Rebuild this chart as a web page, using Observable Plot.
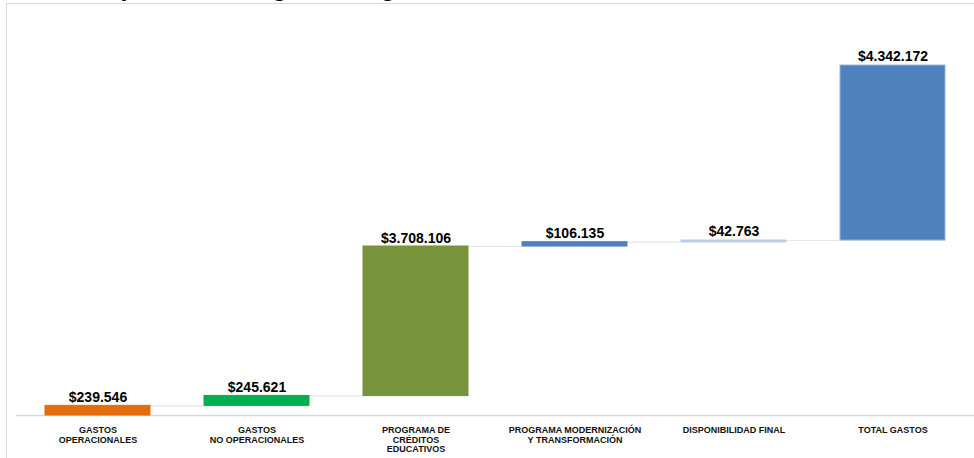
<!DOCTYPE html>
<html>
<head>
<meta charset="utf-8">
<script src="https://cdn.jsdelivr.net/npm/d3@7"></script>
<script src="https://cdn.jsdelivr.net/npm/@observablehq/plot@0.6"></script>
<style>
  html, body { margin: 0; padding: 0; background: #fff; overflow: hidden; }
  #wrap { position: relative; width: 974px; height: 458px; font-family: "Liberation Sans", Arial, sans-serif; }
  #frame { position: absolute; left: 6px; top: 3px; right: 0; bottom: 0; border-left: 1px solid #d9d9d9; border-top: 1px solid #d9d9d9; }
  #title { position: absolute; left: 65px; top: -25px; font-size: 25px; font-weight: bold; line-height: 25px; white-space: nowrap; color: #000; }
  #chart { position: absolute; left: 0; top: 0; }
</style>
</head>
<body>
<div id="wrap">
  <div id="title">Comportamiento gastos vigencia</div>
  <div id="frame"></div>
  <div id="chart"></div>
</div>
<script>
const categories = [
  "GASTOS\nOPERACIONALES",
  "GASTOS\nNO OPERACIONALES",
  "PROGRAMA DE\nCRÉDITOS\nEDUCATIVOS",
  "PROGRAMA MODERNIZACIÓN\nY TRANSFORMACIÓN",
  "DISPONIBILIDAD FINAL",
  "TOTAL GASTOS"
];
const values = [239546, 245621, 3708106, 106135, 42763, 4342172];
const colors = ["#e46c0a", "#00b050", "#77933c", "#4f81bd", "#b9cde5", "#4f81bd"];
const strokes = ["#e46c0a", "#00b050", "#77933c", "#4f81bd", "#b9cde5", "#95b3d7"];
const yMax = 9304650;

const fmt = d3.formatLocale({decimal: ",", thousands: ".", grouping: [3], currency: ["$", ""]}).format("$,.0f");

let acc = 0;
const data = categories.map((c, i) => {
  const start = acc;
  acc += values[i];
  return {cat: c, value: values[i], start, end: acc, fill: colors[i], stroke: strokes[i], label: fmt(values[i]), next: categories[i + 1]};
});
const connectors = data.filter(d => d.next);

const chart = Plot.plot({
  width: 974,
  height: 458,
  marginLeft: 16,
  marginRight: 0,
  marginTop: 40,
  marginBottom: 43,
  style: {fontFamily: "'Liberation Sans', Arial, sans-serif", background: "transparent"},
  x: {domain: categories, paddingInner: 0.3375, paddingOuter: 0.169, align: 0.5, label: null},
  y: {domain: [0, yMax], axis: null},
  marks: [
    Plot.ruleY(connectors, {x1: "cat", x2: "next", y: "end", stroke: "#e6e6e6", strokeWidth: 1.2}),
    Plot.ruleY([0], {stroke: "#d9d9d9", strokeWidth: 1.5}),
    Plot.barY(data, {x: "cat", y1: "start", y2: "end", fill: "fill", stroke: "stroke", strokeWidth: 1}),
    Plot.text(data, {x: "cat", y: "end", text: "label", lineAnchor: "bottom", dy: -4, fontSize: 14, fontWeight: "bold", fill: "#000"}),
    Plot.axisX({tickSize: 0, tickPadding: 11, fontSize: 9, fontWeight: "bold", lineHeight: 1.05, fill: "#111", label: null})
  ]
});
document.getElementById("chart").appendChild(chart);
</script>
</body>
</html>
